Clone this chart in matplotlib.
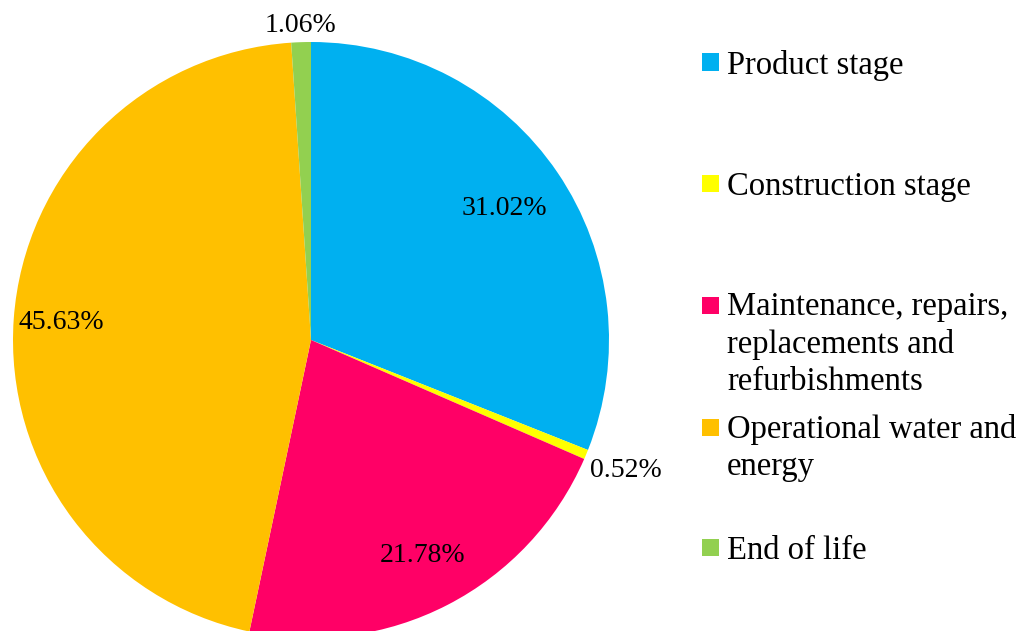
import numpy as np
import matplotlib.pyplot as plt
from matplotlib.patches import Rectangle

plt.rcParams['font.family'] = ['Liberation Serif', 'DejaVu Serif']

# data
stages = ['Product stage', 'Construction stage',
          'Maintenance, repairs,\nreplacements and\nrefurbishments',
          'Operational water and\nenergy', 'End of life']
shares = [31.02, 0.52, 21.78, 45.63, 1.06]
colors = ['#00B0F0', '#FFFF00', '#FF0066', '#FFC000', '#92D050']
label_dist = [0.785, 1.144, 0.815, 0.84, 1.057]

W, H = 1022, 631
fig = plt.figure(figsize=(W / 100, H / 100), dpi=100)

# pie axes: centre (311, 340) px, radius 298 px
cx, cy, r = 311, 340, 298
ax = fig.add_axes([(cx - r) / W, (H - cy - r) / H, 2 * r / W, 2 * r / H])
wedges, _ = ax.pie(shares, colors=colors, startangle=90, counterclock=False,
                   radius=1, wedgeprops=dict(linewidth=0))
ax.set_xlim(-1, 1)
ax.set_ylim(-1, 1)
ax.axis('off')

for w, v, d in zip(wedges, shares, label_dist):
    ang = np.deg2rad((w.theta1 + w.theta2) / 2)
    ax.text(d * np.cos(ang), d * np.sin(ang), f'{v:.2f}%',
            ha='center', va='center', fontsize=20, clip_on=False)

# legend, drawn by hand to match the uneven spacing
leg_y = [62, 183, 305, 427, 547]   # square centre, px from top
sq = 17
for name, c, y in zip(stages, colors, leg_y):
    fig.patches.append(Rectangle((702 / W, (H - y - sq / 2) / H), sq / W, sq / H,
                                 transform=fig.transFigure, facecolor=c,
                                 edgecolor='none'))
    if '\n' in name:
        fig.text(727 / W, (H - y + 13) / H, name, ha='left', va='top',
                 fontsize=23.5, linespacing=1.27)
    else:
        fig.text(727 / W, (H - y) / H, name, ha='left', va='center_baseline',
                 fontsize=23.5)

fig.savefig('out.png', dpi=100)
